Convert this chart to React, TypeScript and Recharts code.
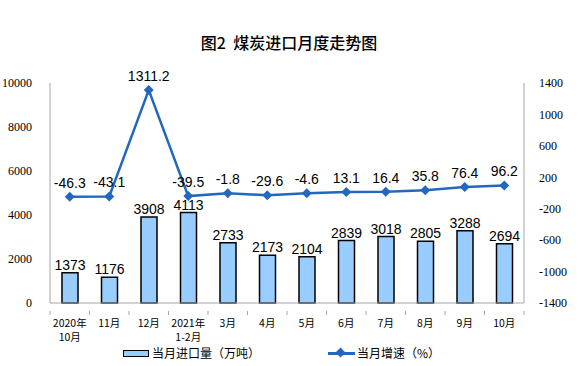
import { ComposedChart, Bar, Line, XAxis, YAxis, LabelList } from 'recharts';

const months = ['2020年|10月', '11月', '12月', '2021年|1-2月', '3月', '4月', '5月', '6月', '7月', '8月', '9月', '10月'];
const imports = [1373, 1176, 3908, 4113, 2733, 2173, 2104, 2839, 3018, 2805, 3288, 2694];
const growth = [-46.3, -43.1, 1311.2, -39.5, -1.8, -29.6, -4.6, 13.1, 16.4, 35.8, 76.4, 96.2];
const leftTicks = [0, 2000, 4000, 6000, 8000, 10000];
const rightTicks = [-1400, -1000, -600, -200, 200, 600, 1000, 1400];

const data = months.map((m, i) => ({ name: m, imports: imports[i], growth: growth[i] }));

const BLUE = '#2368BF';
const AXIS = '#A6A6A6';
const band = 474 / 12;

const MonthTick = (props) => {
  const { x, y, payload, index } = props;
  const lines = String(payload.value).split('|');
  return (
    <g>
      <line x1={x - band / 2} y1={y} x2={x - band / 2} y2={y + 4} stroke={AXIS} />
      {index === months.length - 1 && (
        <line x1={x + band / 2} y1={y} x2={x + band / 2} y2={y + 4} stroke={AXIS} />
      )}
      {lines.map((l, i) => (
        <text key={i} x={x} y={y + 16 + i * 14} textAnchor="middle" fontSize={10.5}
          fontFamily="'Noto Sans CJK SC', sans-serif" fill="#000">{l}</text>
      ))}
    </g>
  );
};

const Diamond = (props) => {
  const { cx, cy } = props;
  if (cx == null || cy == null) return null;
  return <path d={`M${cx},${cy - 5} L${cx + 5},${cy} L${cx},${cy + 5} L${cx - 5},${cy} Z`} fill={BLUE} />;
};

const App = () => {
  return (
    <div style={{ position: 'absolute', left: 0, top: 0, width: 578, height: 366, background: '#fff' }}>
      <div style={{ position: 'absolute', left: 0, width: 578, top: 32, textAlign: 'center', fontSize: 16,
        fontWeight: 500, fontFamily: "'Noto Sans CJK SC', sans-serif", color: '#000', lineHeight: '20px' }}>
        图2&nbsp;&nbsp;煤炭进口月度走势图
      </div>
      <ComposedChart width={578} height={366} data={data}
        margin={{ top: 83, right: 0, bottom: 33, left: 0 }}>
        <XAxis dataKey="name" xAxisId="x" interval={0} tickLine={false} tick={<MonthTick />}
          axisLine={{ stroke: AXIS }} height={30} />
        <YAxis yAxisId="l" orientation="left" width={50} domain={[0, 10000]} ticks={leftTicks}
          tickLine={false} axisLine={{ stroke: AXIS }} tickMargin={12}
          tick={{ fontSize: 12, fill: '#000', fontFamily: "'Liberation Serif', serif" }} />
        <YAxis yAxisId="r" orientation="right" width={54} domain={[-1400, 1400]} ticks={rightTicks}
          tickLine={false} axisLine={{ stroke: AXIS }} tickMargin={9}
          tick={{ fontSize: 12, fill: '#000', fontFamily: "'Liberation Serif', serif" }} />
        <Bar dataKey="imports" xAxisId="x" yAxisId="l" barSize={16} fill="#99CCFF" stroke="#000"
          strokeWidth={1.5} isAnimationActive={false}>
          <LabelList dataKey="imports" position="top" offset={3} fontSize={14} fill="#000"
            fontFamily="'Liberation Sans', Arial, sans-serif" />
        </Bar>
        <Line dataKey="growth" xAxisId="x" yAxisId="r" stroke={BLUE} strokeWidth={2.5} type="linear"
          dot={<Diamond />} activeDot={false} isAnimationActive={false}>
          <LabelList dataKey="growth" position="top" offset={9} fontSize={14} fill="#000"
            fontFamily="'Liberation Sans', Arial, sans-serif" />
        </Line>
      </ComposedChart>
      <div style={{ position: 'absolute', top: 345, left: 0, width: 578, height: 18,
        fontFamily: "'Noto Sans CJK SC', sans-serif", fontSize: 12, color: '#000' }}>
        <div style={{ position: 'absolute', left: 123, top: 5, width: 24, height: 5, background: '#99CCFF',
          border: '1.5px solid #000' }} />
        <div style={{ position: 'absolute', left: 152, top: 0, lineHeight: '16px' }}>当月进口量（万吨）</div>
        <div style={{ position: 'absolute', left: 328, top: 7, width: 27, height: 2.5, background: BLUE }} />
        <div style={{ position: 'absolute', left: 337, top: 4, width: 7, height: 7, background: BLUE,
          transform: 'rotate(45deg)' }} />
        <div style={{ position: 'absolute', left: 357, top: 0, lineHeight: '16px' }}>当月增速（%）</div>
      </div>
    </div>
  );
};

export default App;
